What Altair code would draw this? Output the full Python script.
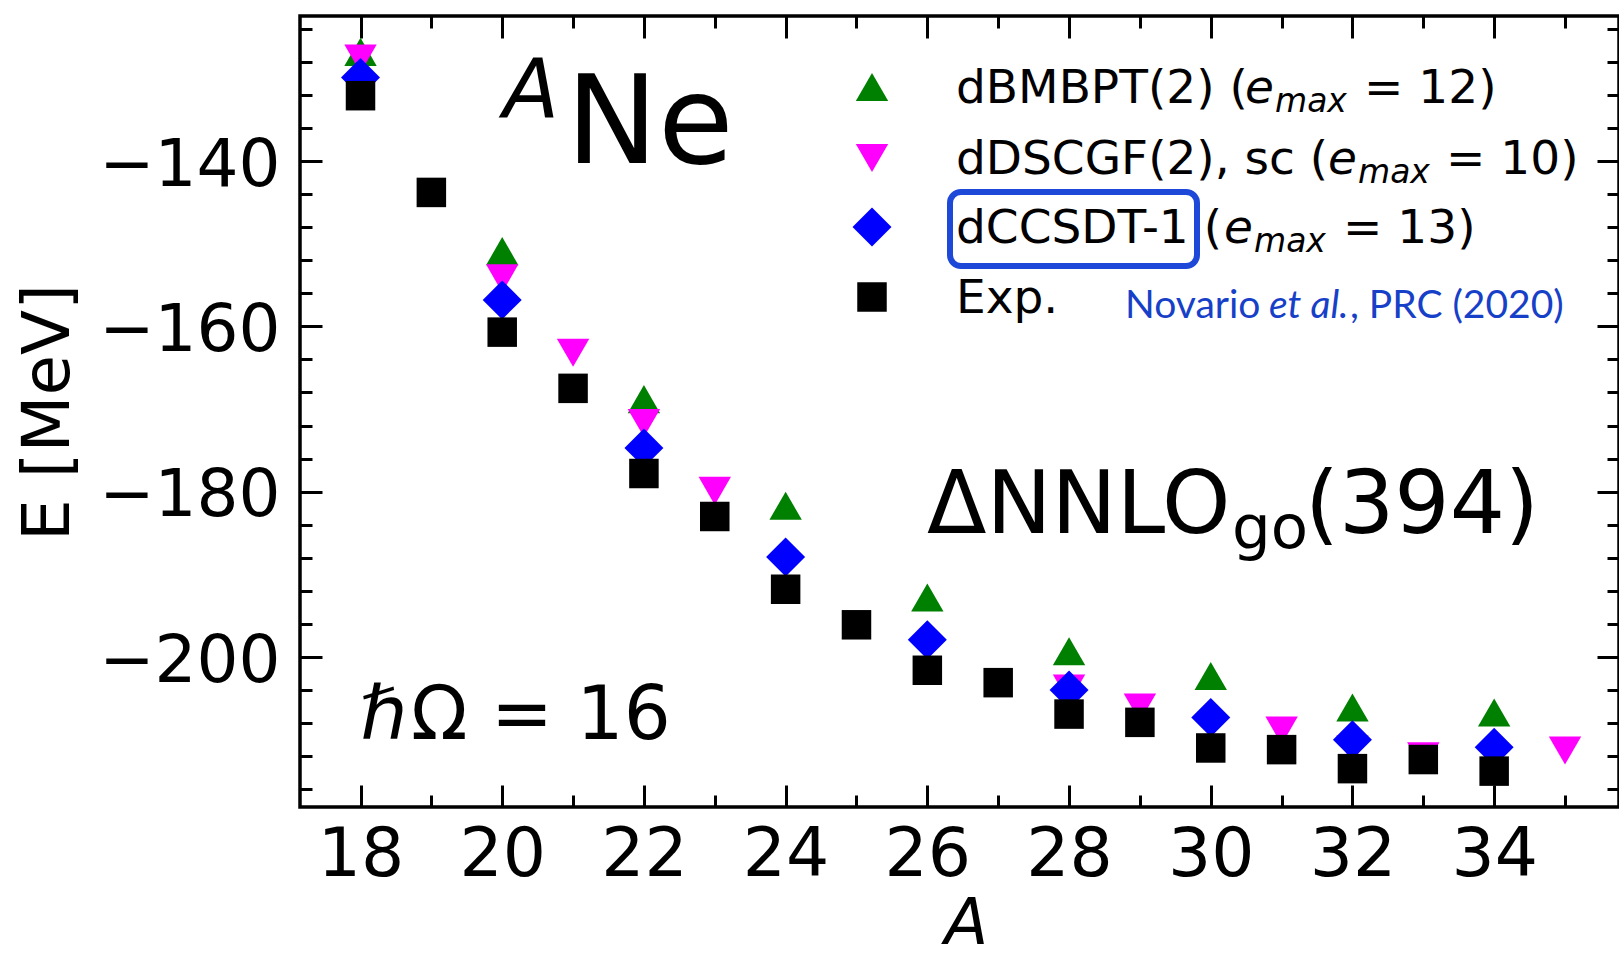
import altair as alt
import pandas as pd

# ---------------- data ----------------
A_EXP = [18, 19, 20, 21, 22, 23, 24, 25, 26, 27, 28, 29, 30, 31, 32, 33, 34]
E_EXP = [-132.1, -143.8, -160.7, -167.5, -177.8, -183.0, -191.8, -196.1, -201.6,
         -203.1, -206.9, -207.9, -211.0, -211.2, -213.5, -212.4, -213.8]

A_BMBPT = [18, 20, 22, 24, 26, 28, 30, 32, 34]
E_BMBPT = [-126.8, -150.9, -168.8, -181.7, -192.8, -199.3, -202.3, -206.1, -206.7]

A_DSCGF = [18, 20, 21, 22, 23, 28, 29, 31, 32, 33, 35]
E_DSCGF = [-127.6, -154.2, -163.2, -171.7, -179.9, -203.8, -206.1, -208.9, -211.2, -212.0, -211.3]

A_CCSDT = [18, 20, 22, 24, 26, 28, 30, 32, 34]
E_CCSDT = [-129.9, -156.8, -174.7, -187.9, -197.9, -204.0, -207.3, -210.0, -210.9]

X_MAJOR = [18, 20, 22, 24, 26, 28, 30, 32, 34]
X_MINOR = list(range(17, 36))
Y_MAJOR = [-140, -160, -180, -200]
Y_MINOR = list(range(-216, -123, 4))

LEGEND_MAIN = ["dBMBPT(2) (", "dDSCGF(2), sc (", "dCCSDT-1 (", "Exp."]
LEGEND_TAIL = ["= 12)", "= 10)", "= 13)"]
LEGEND_E = "e"
LEGEND_SUB = "max"
CITE = ["Novario ", "et al.", ", PRC (2020)"]
NUCLEUS = ["A", "Ne"]
HBAR = ["ℏ", "Ω = 16"]
INTERACTION = ["ΔNNLO", "go", "(394)"]

# ---------------- layout ----------------
W, H = 1319, 791
PX, PY = 300, 16          # page position of plot origin
FONT = "DejaVu Sans"

xs = alt.Scale(domain=[17.146, 35.762], nice=False, zero=False)
ys = alt.Scale(domain=[-218.14, -122.46], nice=False, zero=False)


def ax(orient, values, size, **kw):
    base = dict(orient=orient, values=values, tickSize=size, offset=-size,
                domain=False, grid=False, ticks=True, tickColor="black",
                tickWidth=3, title="")
    if "labels" not in kw:
        base["labels"] = False
    base.update(kw)
    return alt.Axis(**base)


def series(A, E, shape, color, size, xaxis, yaxis):
    df = pd.DataFrame({"A": A, "E": E})
    return alt.Chart(df).mark_point(shape=shape, filled=True, size=size,
                                    color=color, opacity=1, strokeWidth=0).encode(
        x=alt.X("A:Q", scale=xs, axis=xaxis),
        y=alt.Y("E:Q", scale=ys, axis=yaxis),
    )


def txt(s, x, y, size, style="normal", color="black", font=FONT,
        align="left", baseline="alphabetic"):
    return alt.Chart(pd.DataFrame({"s": [s]})).mark_text(
        align=align, baseline=baseline, font=font, fontSize=size,
        fontStyle=style, color=color).encode(
        x=alt.value(x - PX), y=alt.value(y - PY), text="s:N")


green = series(A_BMBPT, E_BMBPT, "triangle-up", "#008000", 1050,
               ax("bottom", X_MINOR, 12), ax("left", Y_MINOR, 12))
magenta = series(A_DSCGF, E_DSCGF, "triangle-down", "#ff00ff", 1050,
                 ax("top", X_MAJOR, 22), ax("right", Y_MAJOR, 22))
blue = series(A_CCSDT, E_CCSDT, "diamond", "#0000ff", 1520,
              ax("top", X_MINOR, 12), ax("right", Y_MINOR, 12))
black = series(A_EXP, E_EXP, "square", "black", 870,
               ax("bottom", X_MAJOR, 22, labels=True, labelFont=FONT,
                  labelFontSize=68, labelColor="black", labelPadding=14,
                  labelLimit=0,
                  title="A", titleFont=FONT, titleFontSize=64,
                  titleFontStyle="italic", titleFontWeight="normal",
                  titleColor="black", titleX=666, titleY=158,
                  titleAlign="center", titleBaseline="alphabetic"),
               ax("left", Y_MAJOR, 22, labels=True, labelFont=FONT,
                  labelFontSize=66, labelColor="black", labelPadding=20,
                  labelOffset=4, labelLimit=0,
                  title="E [MeV]", titleFont=FONT, titleFontSize=66,
                  titleFontWeight="normal", titleColor="black",
                  titleAngle=270, titleX=-254, titleY=396,
                  titleAlign="center", titleBaseline="alphabetic"))

layers = [green, magenta, blue, black]

# annotations
layers += [
    txt(NUCLEUS[0], 503, 117, 82, style="italic"),
    txt(NUCLEUS[1], 566, 163, 123),
    txt(HBAR[0], 360, 739, 74, style="italic"),
    txt(HBAR[1], 411, 739, 74),
    txt(INTERACTION[0], 927, 533, 87),
    txt(INTERACTION[1], 1232, 548, 61),
    txt(INTERACTION[2], 1305, 533, 87),
]

# hand-made legend
ROW_Y = [87, 158, 227, 297]
LEG_SHAPES = ["triangle-up", "triangle-down", "diamond", "square"]
LEG_COLORS = ["#008000", "#ff00ff", "#0000ff", "black"]
LEG_SIZES = [1050, 1050, 1520, 870]
for i in range(4):
    layers.append(
        alt.Chart(pd.DataFrame({"s": [LEGEND_MAIN[i]]})).mark_point(
            shape=LEG_SHAPES[i], filled=True, size=LEG_SIZES[i],
            color=LEG_COLORS[i], opacity=1, strokeWidth=0).encode(
            x=alt.value(872 - PX), y=alt.value(ROW_Y[i] - PY)))
    layers.append(txt(LEGEND_MAIN[i], 956, ROW_Y[i] + 16, 47))

E_X = [1245, 1328, 1224]
SUB_X = [1275, 1358, 1254]
TAIL_X = [1364, 1446, 1343]
for i in range(3):
    layers.append(txt(LEGEND_E, E_X[i], ROW_Y[i] + 16, 47, style="italic"))
    layers.append(txt(LEGEND_SUB, SUB_X[i], ROW_Y[i] + 25, 33, style="italic"))
    layers.append(txt(LEGEND_TAIL[i], TAIL_X[i], ROW_Y[i] + 16, 47))

# blue highlight box around dCCSDT-1
layers.append(
    alt.Chart(pd.DataFrame({"s": [LEGEND_MAIN[2]]})).mark_rect(
        fill=None, stroke="#1d48d8", strokeWidth=6, cornerRadius=11).encode(
        x=alt.value(950 - PX), x2=alt.value(1197 - PX),
        y=alt.value(192 - PY), y2=alt.value(266 - PY)))

CITE_COLOR = "#1740c8"
layers += [
    txt(CITE[0], 1125, 318, 39, color=CITE_COLOR, font="Lato"),
    txt(CITE[1], 1269, 318, 39, style="italic", color=CITE_COLOR, font="Lato"),
    txt(CITE[2], 1350, 318, 39, color=CITE_COLOR, font="Lato"),
]

chart = alt.layer(*layers).resolve_axis(x="independent", y="independent").properties(
    width=W, height=H,
    autosize=alt.AutoSizeParams(type="none"),
    padding={"left": PX, "top": PY, "right": 0, "bottom": 958 - PY - H},
    background="white",
).configure_view(stroke="black", strokeWidth=3.5)

chart.save("out.html", embed_options={"renderer": "svg", "actions": False})
